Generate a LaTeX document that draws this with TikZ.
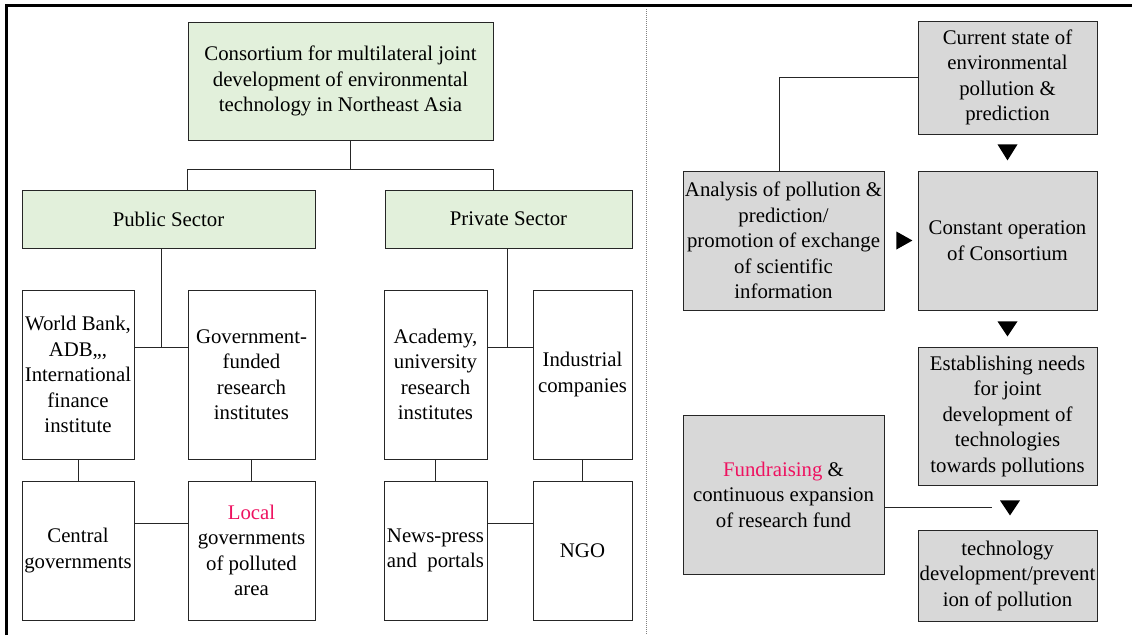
\documentclass[tikz,border=0pt]{standalone}
\usepackage{fontspec}
\setmainfont{Liberation Serif}
\usetikzlibrary{calc}
\definecolor{boxgreen}{RGB}{226,240,219}
\definecolor{boxgray}{RGB}{216,216,216}
\definecolor{hot}{RGB}{238,18,96}
\begin{document}
\begin{tikzpicture}[x=1pt,y=-1pt,
  box/.style={draw=black!85, line width=0.8pt, inner sep=0pt, align=center,
    font=\fontsize{20.8}{25.5}\selectfont},
  gbox/.style={box, fill=boxgreen},
  wbox/.style={box, fill=white},
  kbox/.style={box, fill=boxgray},
  link/.style={draw=black!85, line width=0.8pt},
  tri/.style={fill=black}]
\useasboundingbox (0,0) rectangle (1132,635);
\fill[white] (0,0) rectangle (1132,635);
% frame
\coordinate (ftl) at (6.5,5);
\coordinate (ftr) at (1132,5);
\coordinate (fbl) at (6.5,635);
\draw[line width=3pt] (fbl) -- (ftl) -- (ftr);
\coordinate (dt) at (646.5,9);
\coordinate (db) at (646.5,635);
\draw[gray, line width=1pt, dash pattern=on 1pt off 1pt] (dt) -- (db);

% left tree
\node[gbox, minimum width=305, minimum height=118] (cons) at (340.5,81)
  {Consortium for multilateral joint\\development of environmental\\technology in Northeast Asia};
\node[gbox, minimum width=293, minimum height=58] (pub) at (168.5,219) {Public Sector};
\node[gbox, minimum width=247, minimum height=58] (priv) at (508.5,219) {Private Sector};

\node[wbox, minimum width=112, minimum height=169] (wb) at (78,374.5)
  {World Bank,\\ADB,,,\\International\\finance\\institute};
\node[wbox, minimum width=127, minimum height=169] (gov) at (251.5,374.5)
  {Government-\\funded\\research\\institutes};
\node[wbox, minimum width=112, minimum height=139] (cen) at (78,550.5)
  {Central\\governments};
\node[wbox, minimum width=127, minimum height=139] (loc) at (251.5,550.5)
  {\textcolor{hot}{Local}\\governments\\of polluted\\area};

\node[wbox, minimum width=103, minimum height=169] (aca) at (435.5,374.5)
  {Academy,\\university\\research\\institutes};
\node[wbox, minimum width=99, minimum height=169] (ind) at (582.5,374.5)
  {Industrial\\companies};
\node[wbox, minimum width=103, minimum height=139] (news) at (435.5,550.5)
  {News-press\\and\ \ portals};
\node[wbox, minimum width=99, minimum height=139] (ngo) at (582.5,550.5)
  {NGO};

% left connectors
\coordinate (j1) at (350,169);
\draw[link] (cons.south -| j1) -- (j1);
\draw[link] (cons.south west |- pub.north) -- (cons.south west |- j1) -- (cons.south east |- j1) -- (cons.south east |- priv.north);
\coordinate (j2) at (161,347);
\draw[link] (pub.south -| j2) -- (j2);
\draw[link] (wb.east |- j2) -- (gov.west |- j2);
\coordinate (j3) at (507,347);
\draw[link] (priv.south -| j3) -- (j3);
\draw[link] (aca.east |- j3) -- (ind.west |- j3);
\draw[link] (wb.south) -- (cen.north);
\draw[link] (gov.south) -- (loc.north);
\draw[link] (aca.south) -- (news.north);
\draw[link] (ind.south) -- (ngo.north);
\coordinate (j4) at (0,523);
\draw[link] (cen.east |- j4) -- (loc.west |- j4);
\draw[link] (news.east |- j4) -- (ngo.west |- j4);

% right flow
\node[kbox, minimum width=179, minimum height=113] (cur) at (1007.5,77.5)
  {Current state of\\environmental\\pollution \&\\prediction};
\node[kbox, minimum width=201, minimum height=139] (ana) at (783.5,240.5)
  {Analysis of pollution \&\\prediction/\\promotion of exchange\\of scientific\\information};
\node[kbox, minimum width=179, minimum height=139] (con) at (1007.5,240.5)
  {Constant operation\\of Consortium};
\node[kbox, minimum width=179, minimum height=138] (est) at (1007.5,416)
  {Establishing needs\\for joint\\development of\\technologies\\towards pollutions};
\node[kbox, minimum width=201, minimum height=159] (fund) at (783.5,494.5)
  {\textcolor{hot}{Fundraising} \&\\continuous expansion\\of research fund};
\node[kbox, minimum width=179, minimum height=91] (tech) at (1007.5,575.5)
  {technology\\development/prevent\\ion of pollution};

% right connectors
\draw[link] ([xshift=-4.5pt]ana.north) |- (cur.west);
\coordinate (fe) at (992,507);
\draw[link] (fe -| fund.east) -- (fe);

% triangles
\fill[tri] ($(cur.south)+(-10,10)$) -- ++(20,0) -- ++(-10,16) -- cycle;
\fill[tri] ($(con.south)+(-10,11)$) -- ++(20,0) -- ++(-10,15) -- cycle;
\fill[tri] ($(est.south)+(-7.5,15)$) -- ++(20,0) -- ++(-10,15) -- cycle;
\fill[tri] ($(ana.east)+(12,-9)$) -- ++(0,18) -- ++(16,-9) -- cycle;
\end{tikzpicture}
\end{document}
